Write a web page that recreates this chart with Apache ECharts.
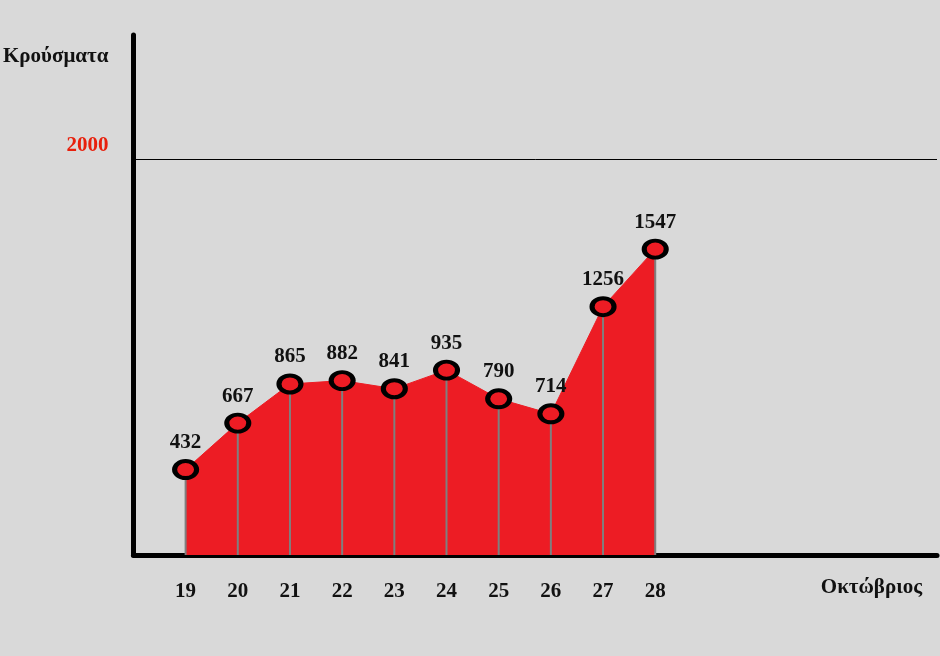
<!DOCTYPE html>
<html>
<head>
<meta charset="utf-8">
<script src="https://cdn.jsdelivr.net/npm/echarts@6/dist/echarts.min.js"></script>
<style>
html,body{margin:0;padding:0;background:#d9d9d9;}
#chart{width:940px;height:656px;}
</style>
</head>
<body>
<div id="chart"></div>
<script>
const days = [19, 20, 21, 22, 23, 24, 25, 26, 27, 28];
const cases = [432, 667, 865, 882, 841, 935, 790, 714, 1256, 1547];
const yMarks = [2000];
const yTitle = 'Κρούσματα';
const xTitle = 'Οκτώβριος';

const pts = days.map((d, i) => [d, cases[i]]);
const FONT = '"Liberation Serif", "DejaVu Serif", serif';

const chart = echarts.init(document.getElementById('chart'), null, {renderer: 'canvas'});
chart.setOption({
  backgroundColor: '#d9d9d9',
  animation: false,
  grid: {left: 133, right: 0, top: 35, bottom: 101, containLabel: false},
  xAxis: {
    type: 'value',
    min: 18, max: 33.4, interval: 1,
    name: xTitle,
    nameLocation: 'end',
    nameGap: -15,
    nameTextStyle: {fontFamily: FONT, fontWeight: 'bold', fontSize: 21, color: '#111',
      align: 'right', verticalAlign: 'top', padding: [22, 0, 0, 0]},
    axisLine: {show: true, lineStyle: {color: '#000', width: 5}},
    axisTick: {show: false},
    splitLine: {show: false},
    axisLabel: {
      margin: 26,
      fontFamily: FONT, fontWeight: 'bold', fontSize: 21, color: '#111',
      formatter: v => days.includes(v) ? String(v) : ''
    }
  },
  yAxis: {
    type: 'value',
    min: 0, max: 2630, interval: 2000,
    name: yTitle,
    nameLocation: 'end',
    nameGap: -22,
    nameTextStyle: {fontFamily: FONT, fontWeight: 'bold', fontSize: 21, color: '#111',
      align: 'right', verticalAlign: 'middle', padding: [0, 25, 0, 0]},
    axisLine: {show: true, lineStyle: {color: '#000', width: 5, cap: 'round'}},
    axisTick: {show: false},
    splitLine: {show: false},
    axisLabel: {
      margin: 25,
      fontFamily: FONT, fontWeight: 'bold', fontSize: 21, color: '#e8200c',
      verticalAlign: 'bottom', padding: [0, 0, 3, 0],
      formatter: v => yMarks.includes(v) ? String(v) : ''
    }
  },
  series: [
    {
      type: 'line',
      data: pts,
      showSymbol: false,
      lineStyle: {color: '#ed1c24', width: 1},
      areaStyle: {color: '#ed1c24', opacity: 1},
      z: 1,
      markLine: {
        silent: true,
        symbol: 'none',
        label: {show: false},
        lineStyle: {color: '#000', type: 'solid', width: 1},
        data: yMarks.map(v => ({yAxis: v}))
      }
    },
    {
      type: 'bar',
      data: pts,
      barWidth: 2,
      itemStyle: {color: '#7f7f7f'},
      z: 2
    },
    {
      type: 'scatter',
      data: pts,
      symbol: 'circle',
      symbolSize: [22, 17],
      itemStyle: {color: '#ed1c24', borderColor: '#000', borderWidth: 4.5, opacity: 1},
      label: {
        show: true, position: 'top', distance: 6,
        fontFamily: FONT, fontWeight: 'bold', fontSize: 21, color: '#111',
        formatter: p => String(p.value[1])
      },
      z: 3
    }
  ]
});
</script>
</body>
</html>
